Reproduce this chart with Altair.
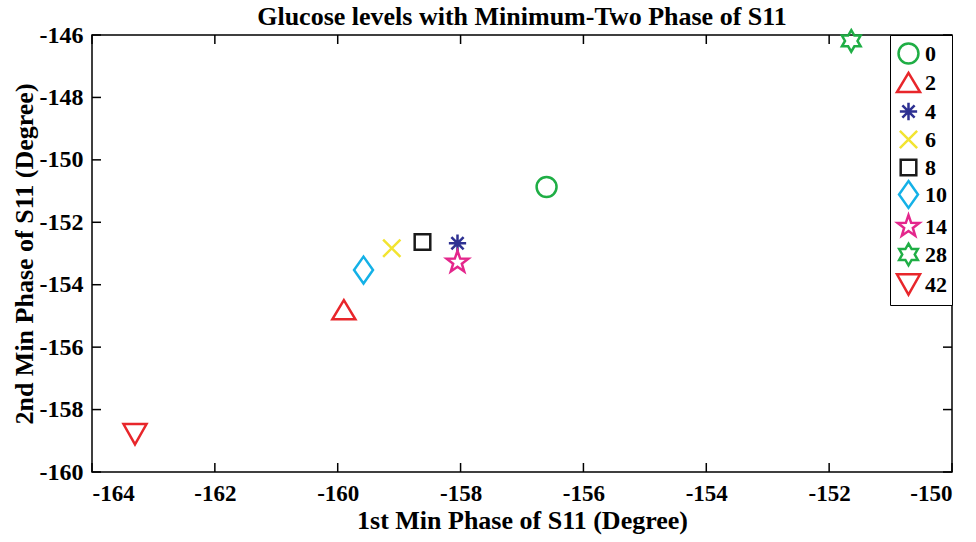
import math
import altair as alt
import pandas as pd

# ---- data ----
labels = ["0", "2", "4", "6", "8", "10", "14", "28", "42"]
x_vals = [-156.60, -159.90, -158.05, -159.12, -158.62, -159.58, -158.05, -151.64, -163.30]
y_vals = [-150.87, -154.80, -152.67, -152.83, -152.63, -153.53, -153.28, -146.19, -158.79]
colors = ["#1fae45", "#e8262b", "#2e3192", "#f2e431", "#1a1a1a", "#14b1e7", "#e4268c", "#1fae45", "#e8262b"]
x_ticks = [-164, -162, -160, -158, -156, -154, -152, -150]
y_ticks = [-160, -158, -156, -154, -152, -150, -148, -146]


# ---- marker geometry (MATLAB-like shapes) ----
def star(n, R, r):
    pts = []
    for k in range(2 * n):
        a = math.radians(-90 + k * 180 / n)
        rad = R if k % 2 == 0 else r
        pts.append(f"{rad * math.cos(a):.3f},{rad * math.sin(a):.3f}")
    return "M" + "L".join(pts) + "Z"


c = 0.83
shapes = [
    f"M{c},0A{c},{c} 0 1,1 -{c},0A{c},{c} 0 1,1 {c},0Z",              # circle
    "M0,-0.8L0.96,0.8L-0.96,0.8Z",                                    # triangle up
    "M0,-0.72L0,0.72M-0.72,0L0.72,0M-0.51,-0.51L0.51,0.51M-0.51,0.51L0.51,-0.51",  # asterisk
    "M-0.72,-0.72L0.72,0.72M-0.72,0.72L0.72,-0.72",                    # x
    "M-0.65,-0.65L0.65,-0.65L0.65,0.65L-0.65,0.65Z",                   # square
    "M0,-1.12L0.79,0L0,1.12L-0.79,0Z",                                 # diamond
    star(5, 0.95, 0.38),                                               # pentagram
    star(6, 0.9, 0.52),                                                # hexagram
    "M0,0.85L0.96,-0.85L-0.96,-0.85Z",                                 # triangle down
]

df = pd.DataFrame({"x": x_vals, "y": y_vals, "g": labels})
xt = pd.DataFrame({"x": x_ticks})
yt = pd.DataFrame({"y": y_ticks})

FONT = "Liberation Serif, Times New Roman, serif"
W, H = 860, 437
TL = 9
LABEL_EXPR = "datum.value < 0 ? '-' + format(-datum.value, 'd') : format(datum.value, 'd')"

xscale = alt.Scale(domain=[-164, -150], nice=False, zero=False)
yscale = alt.Scale(domain=[-160, -146], nice=False, zero=False)

xaxis = alt.Axis(values=x_ticks, ticks=False, grid=False, domain=False, labelPadding=10,
                 labelExpr=LABEL_EXPR,
                 labelFont=FONT, labelFontSize=23, labelFontWeight="bold", labelColor="black",
                 title="1st Min Phase of S11 (Degree)", titleFont=FONT, titleFontSize=26,
                 titleFontWeight="bold", titleColor="black",
                 titleBaseline="alphabetic", titleY=56)
yaxis = alt.Axis(values=y_ticks, ticks=False, grid=False, domain=False, labelPadding=9,
                 labelExpr=LABEL_EXPR,
                 labelFont=FONT, labelFontSize=24, labelFontWeight="bold", labelColor="black",
                 title="2nd Min Phase of S11 (Degree)", titleFont=FONT, titleFontSize=26,
                 titleFontWeight="bold", titleColor="black",
                 titleBaseline="alphabetic", titleX=-60, titleY=H / 2)

leg = alt.Legend(title=None, orient="top-right", offset=0,
                 fillColor="white", strokeColor="black", padding=5,
                 labelFont=FONT, labelFontSize=22, labelFontWeight="bold",
                 labelColor="black", symbolSize=576, symbolStrokeWidth=2.5,
                 rowPadding=-6, labelOffset=3)

points = alt.Chart(df).mark_point(filled=False, strokeWidth=2.5, size=576, opacity=1).encode(
    x=alt.X("x:Q", scale=xscale, axis=xaxis),
    y=alt.Y("y:Q", scale=yscale, axis=yaxis),
    color=alt.Color("g:N", scale=alt.Scale(domain=labels, range=colors), sort=labels, legend=leg),
    shape=alt.Shape("g:N", scale=alt.Scale(domain=labels, range=shapes), sort=labels, legend=leg),
)

tick_style = dict(color="black", strokeWidth=1.5)
xb = alt.Chart(xt).mark_rule(**tick_style).encode(
    x=alt.X("x:Q", scale=xscale, axis=xaxis), y=alt.value(H), y2=alt.value(H - TL))
xtop = alt.Chart(xt).mark_rule(**tick_style).encode(
    x=alt.X("x:Q", scale=xscale, axis=xaxis), y=alt.value(0), y2=alt.value(TL))
yl = alt.Chart(yt).mark_rule(**tick_style).encode(
    y=alt.Y("y:Q", scale=yscale, axis=yaxis), x=alt.value(0), x2=alt.value(TL))
yr = alt.Chart(yt).mark_rule(**tick_style).encode(
    y=alt.Y("y:Q", scale=yscale, axis=yaxis), x=alt.value(W), x2=alt.value(W - TL))

chart = alt.layer(points, xb, xtop, yl, yr).properties(
    width=W, height=H,
    background="white",
    title=alt.TitleParams("Glucose levels with Minimum-Two Phase of S11", font=FONT,
                          fontSize=26, fontWeight="bold", color="black", offset=-7),
    autosize=alt.AutoSizeParams(type="none"),
    padding={"left": 92, "top": 35, "right": 24, "bottom": 70},
).configure_view(stroke="black", strokeWidth=1.5)

chart.save("out.html", embed_options={"renderer": "svg", "actions": False})
